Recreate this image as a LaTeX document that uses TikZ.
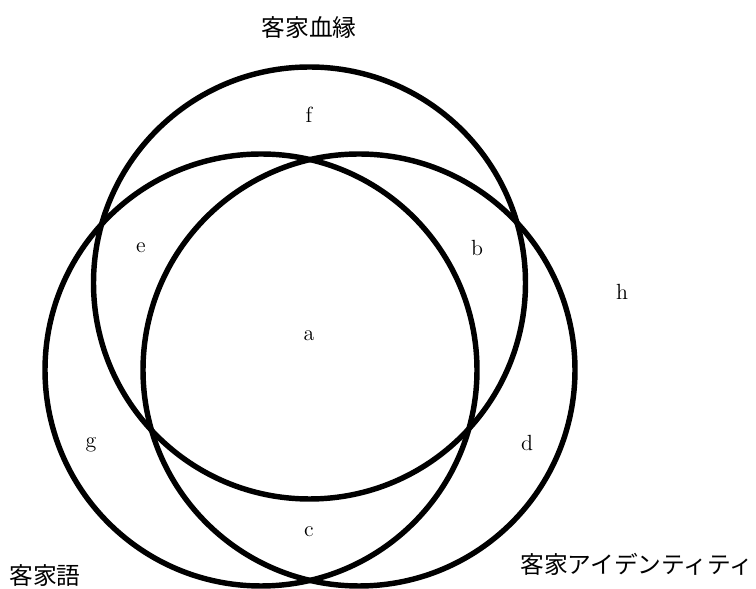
\documentclass[tikz,border=0pt]{standalone}
\usepackage{fontspec}
\newfontfamily\jpfont{Noto Sans CJK JP}
\usetikzlibrary{positioning}
\tikzset{
	setcircle/.style={
		circle, draw=black, line width=3.1pt,
		minimum size=8.64cm, inner sep=0pt
	},
	setname/.style={
		font=\jpfont\fontsize{13.5}{16}\selectfont, inner sep=0pt
	},
	region/.style={
		font=\fontsize{12.5}{14}\selectfont, inner sep=0pt
	}
}
\begin{document}
\begin{tikzpicture}
	\useasboundingbox (0,0) rectangle (15.12,11.78);
	
	%% ═══════════════════════════════
	%%  CIRCLES
	%% ═══════════════════════════════
	\node[setcircle] (blood) at (6.19,6.12) {};
	\node[setcircle] (lang)  at (5.22,4.38) {};
	\node[setcircle] (ident) at (7.18,4.38) {};
	
	%% ═══════════════════════════════
	%%  SET NAMES
	%% ═══════════════════════════════
	\node[setname] (bloodname) at (6.18,11.22) {客家血縁};
	\node[setname] (langname)  at (0.90,0.26)  {客家語};
	\node[setname] (identname) at (12.74,0.50) {客家アイデンティティ};
	
	%% ═══════════════════════════════
	%%  REGIONS
	%% ═══════════════════════════════
	\node[region] (ra) at (6.18,5.06)  {a};
	\node[region] (rb) at (9.54,6.82)  {b};
	\node[region] (rc) at (6.18,1.14)  {c};
	\node[region] (rd) at (10.54,2.92) {d};
	\node[region] (re) at (2.82,6.82)  {e};
	\node[region] (rf) at (6.18,9.48)  {f};
	\node[region] (rg) at (1.82,2.88)  {g};
	\node[region] (rh) at (12.44,5.94) {h};
\end{tikzpicture}
\end{document}
